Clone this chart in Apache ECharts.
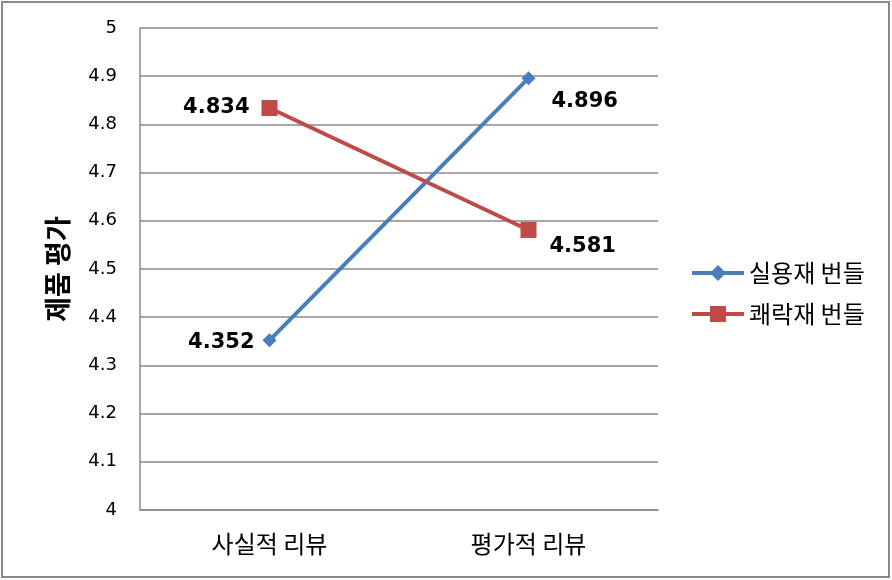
<!DOCTYPE html>
<html><head><meta charset="utf-8">
<script src="https://cdn.jsdelivr.net/npm/echarts@6/dist/echarts.min.js"></script>
<style>html,body{margin:0;padding:0;background:#fff}#c{width:892px;height:580px}</style>
</head><body><div id="c"></div>
<script>
const categories = ['사실적 리뷰', '평가적 리뷰'];
const seriesNames = ['실용재 번들', '쾌락재 번들'];
const utilValues = [4.352, 4.896];
const hedonValues = [4.834, 4.581];
const yTicks = [4, 4.1, 4.2, 4.3, 4.4, 4.5, 4.6, 4.7, 4.8, 4.9, 5];
const yTitle = '제품 평가';

const font = '"Noto Sans CJK KR", "Noto Sans", sans-serif';
const numFont = '"DejaVu Sans", sans-serif';
const chart = echarts.init(document.getElementById('c'));
const lblStyle = {show: true, fontSize: 21, fontWeight: 'bold', color: '#000', fontFamily: numFont};
chart.setOption({
  animation: false,
  graphic: [{type: 'rect', shape: {x: 2, y: 2, width: 887, height: 575}, style: {fill: 'none', stroke: '#8a8a8a', lineWidth: 2}}],
  grid: {left: 140, right: 234, top: 28, bottom: 70},
  legend: {
    orient: 'vertical', left: 685, top: 256, itemGap: 17, itemWidth: 52, itemHeight: 20,
    lineStyle: {width: 4},
    textStyle: {fontSize: 24, fontFamily: font, color: '#000'},
    data: seriesNames
  },
  xAxis: {
    type: 'category', data: categories,
    axisLine: {lineStyle: {color: '#8a8a8a', width: 1.5}},
    axisTick: {show: false},
    axisLabel: {fontSize: 24, color: '#000', fontFamily: font, margin: 22}
  },
  yAxis: {
    type: 'value', min: 4, max: 5, interval: 0.1,
    name: yTitle, nameLocation: 'middle', nameGap: 69, nameRotate: 90,
    nameTextStyle: {fontSize: 27, fontWeight: 'bold', color: '#000', fontFamily: font},
    axisLine: {show: true, lineStyle: {color: '#8a8a8a', width: 1.5}},
    axisTick: {show: false},
    splitLine: {lineStyle: {color: '#8a8a8a', width: 1.5}},
    axisLabel: {fontSize: 18, color: '#000', fontFamily: numFont, margin: 23,
      formatter: v => { const t = yTicks.find(x => Math.abs(x - v) < 1e-6); return t === undefined ? '' : String(t); }}
  },
  series: [
    {name: seriesNames[0], type: 'line', symbol: 'diamond', symbolSize: 14,
     lineStyle: {color: '#4A7EBB', width: 4}, itemStyle: {color: '#4A7EBB'},
     label: lblStyle,
     data: [
       {value: utilValues[0], label: {position: 'left', distance: 8, offset: [0, 2]}},
       {value: utilValues[1], label: {position: 'right', distance: 16, offset: [0, 23]}}
     ]},
    {name: seriesNames[1], type: 'line', symbol: 'rect', symbolSize: 16,
     lineStyle: {color: '#BE4B48', width: 4}, itemStyle: {color: '#BE4B48'},
     label: lblStyle,
     data: [
       {value: hedonValues[0], label: {position: 'left', distance: 12}},
       {value: hedonValues[1], label: {position: 'right', distance: 13, offset: [0, 17]}}
     ]}
  ]
});
</script></body></html>
